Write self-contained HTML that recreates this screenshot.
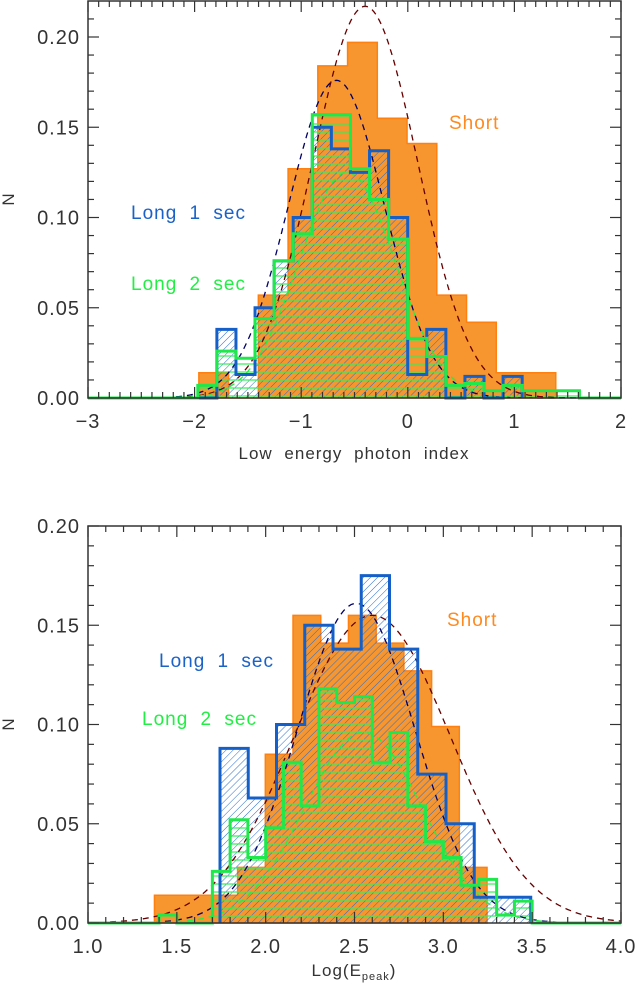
<!DOCTYPE html>
<html><head><meta charset="utf-8"><style>
body{margin:0;background:#fff;}
svg{display:block;font-family:"Liberation Sans",sans-serif;}
</style></head><body>
<svg id="chart" width="635" height="990" viewBox="0 0 635 990" xmlns="http://www.w3.org/2000/svg">
<defs>
<pattern id="hatchBlue" patternUnits="userSpaceOnUse" width="5" height="5" patternTransform="rotate(45)">
<line x1="0" y1="0" x2="0" y2="5" stroke="#2a6fd0" stroke-width="1"/>
</pattern>
<pattern id="hatchGreen" patternUnits="userSpaceOnUse" width="8" height="8">
<line x1="0" y1="4" x2="8" y2="4" stroke="#33ee55" stroke-width="1.2"/>
</pattern>
</defs>
</svg>
<script>
// ---- Top panel data ----
const topOrangeStart = -1.96, topOrangeStep = 0.279;
const topOrange = [0.014,0,0.057,0.127,0.184,0.197,0.155,0.141,0.057,0.042,0.014,0.014];
const topLongStart = -1.97, topLongStep = 0.179;
const topBlue = [0,0.038,0.013,0.050,0.076,0.100,0.150,0.138,0.125,0.137,0.100,0.013,0.038,0,0.012,0,0.012];
const topGreen = [0.007,0.026,0.022,0.044,0.076,0.091,0.157,0.157,0.127,0.110,0.088,0.033,0.023,0.007,0.008,0.004,0.007,0.004,0.004,0.004];
const topGauss = [[0.217,-0.40,0.49,'#660000'],[0.176,-0.67,0.45,'#000066'],[0.125,-0.57,0.45,'#22ee44']];
const topXTicks = [-3,-2,-1,0,1,2];
const topXLabels = ['\u22123','\u22122','\u22121','0','1','2'];
const yTicks = [0,0.05,0.10,0.15,0.20];
const yLabels = ['0.00','0.05','0.10','0.15','0.20'];
// ---- Bottom panel data ----
const botOrangeStart = 1.374, botOrangeStep = 0.156;
const botOrange = [0.014,0.014,0.014,0.028,0.085,0.155,0.141,0.155,0.141,0.127,0.099,0.028];
const botBlueStart = 1.743, botBlueStep = 0.159;
const botBlue = [0.088,0.063,0.100,0.150,0.138,0.175,0.138,0.075,0.050,0.013,0.013];
const botGreenStart = 1.4, botGreenStep = 0.1;
const botGreen = [0.004,0,0,0.026,0.052,0.033,0.048,0.081,0.059,0.118,0.111,0.114,0.081,0.096,0.059,0.041,0.033,0.019,0.022,0.004,0.011];
const botGauss = [[0.155,2.60,0.44,'#660000'],[0.161,2.51,0.33,'#000066'],[0.096,2.55,0.33,'#22ee44']];
const botXTicks = [1.0,1.5,2.0,2.5,3.0,3.5,4.0];
const botXLabels = ['1.0','1.5','2.0','2.5','3.0','3.5','4.0'];

const NS='http://www.w3.org/2000/svg';
const svg=document.getElementById('chart');
function mk(tag,attrs,parent){const e=document.createElementNS(NS,tag);for(const k in attrs)e.setAttribute(k,attrs[k]);(parent||svg).appendChild(e);return e;}

function panel(cfg){
  const g=mk('g',{});
  
  
  const X=u=>cfg.x0+(u-cfg.xmin)/(cfg.xmax-cfg.xmin)*(cfg.x1-cfg.x0);
  const Y=v=>cfg.yb-(v-0)/(cfg.ymax)*(cfg.yb-cfg.yt);
  function stepPath(start,step,vals,closed){
    let d='M'+X(start)+','+Y(0);
    vals.forEach((v,i)=>{d+=' L'+X(start+i*step)+','+Y(v)+' L'+X(start+(i+1)*step)+','+Y(v);});
    d+=' L'+X(start+vals.length*step)+','+Y(0);
    if(closed)d+=' Z';
    return d;
  }
  const o=mk('path',{d:stepPath(cfg.oS,cfg.oW,cfg.orange,true),fill:'#f7962e',stroke:'#ff7f10','stroke-width':1.5},g);
  
  
  const bh=mk('path',{d:stepPath(cfg.bS,cfg.bW,cfg.blue,true),fill:'url(#hatchBlue)',stroke:'none'},g);
  
  
  const gh=mk('path',{d:stepPath(cfg.gS,cfg.gW,cfg.green,true),fill:'url(#hatchGreen)',stroke:'none'},g);
  
  
  cfg.gauss.forEach((p,k)=>{
    let d='';
    for(let i=0;i<=300;i++){const u=cfg.xmin+(cfg.xmax-cfg.xmin)*i/300;const v=p[0]*Math.exp(-0.5*Math.pow((u-p[1])/p[2],2));d+=(i?' L':'M')+X(u).toFixed(1)+','+Y(v).toFixed(1);}
    const c=mk('path',{d:d,fill:'none',stroke:p[3],'stroke-width':1.3,'stroke-dasharray':'6,5'},g);
    
    
  });
  const bl=mk('path',{d:stepPath(cfg.bS,cfg.bW,cfg.blue,false),fill:'none',stroke:'#1560c8','stroke-width':3},g);
  
  
  const gl=mk('path',{d:'M'+cfg.x0+','+Y(0)+' L'+X(cfg.gS)+','+Y(0)+stepPath(cfg.gS,cfg.gW,cfg.green,false).replace('M',' L')+' L'+cfg.x1+','+Y(0),fill:'none',stroke:'#1ee84a','stroke-width':3},g);
  
  
  const fr=mk('rect',{x:cfg.x0,y:cfg.yt,width:cfg.x1-cfg.x0,height:cfg.yb-cfg.yt,fill:'none',stroke:'#333','stroke-width':1.5},g);
  
  
  for(let u=cfg.xmin;u<=cfg.xmax+1e-9;u+=0.1){
    const maj=cfg.xTicks.some(t=>Math.abs(t-u)<1e-6);const L=maj?11:6;const x=X(u);
    mk('line',{x1:x,y1:cfg.yb,x2:x,y2:cfg.yb-L,stroke:'#333','stroke-width':1.2},g);
    mk('line',{x1:x,y1:cfg.yt,x2:x,y2:cfg.yt+L,stroke:'#333','stroke-width':1.2},g);
  }
  for(let v=0;v<=cfg.ymax+1e-9;v+=0.01){
    const maj=yTicks.some(t=>Math.abs(t-v)<1e-6);const L=maj?11:6;const y=Y(v);
    mk('line',{x1:cfg.x0,y1:y,x2:cfg.x0+L,y2:y,stroke:'#333','stroke-width':1.2},g);
    mk('line',{x1:cfg.x1,y1:y,x2:cfg.x1-L,y2:y,stroke:'#333','stroke-width':1.2},g);
  }
  cfg.xTicks.forEach((t,i)=>{const e=mk('text',{x:X(t),y:cfg.yb+30,'text-anchor':'middle','font-size':20,'letter-spacing':1,fill:'#333'},g);e.textContent=cfg.xLabels[i];
    
    });
  yTicks.forEach((t,i)=>{if(t>cfg.ymax+1e-9)return;const e=mk('text',{x:cfg.x0-8,y:Y(t)+7,'text-anchor':'end','font-size':20,'letter-spacing':1,fill:'#333'},g);e.textContent=yLabels[i];
    
    });
  const yt=mk('text',{x:14,y:(cfg.yt+cfg.yb)/2,'text-anchor':'middle','font-size':17,fill:'#333',transform:'rotate(-90 14 '+((cfg.yt+cfg.yb)/2)+')'},g);yt.textContent='N';
  
  
  return {g,X,Y};
}

panel({name:'top-panel',x0:88,x1:621,yt:1,yb:398,xmin:-3,xmax:2,ymax:(398-1)/1805,
  oS:topOrangeStart,oW:topOrangeStep,orange:topOrange,bS:topLongStart,bW:topLongStep,blue:topBlue,gS:topLongStart,gW:topLongStep,green:topGreen,
  gauss:topGauss,xTicks:topXTicks,xLabels:topXLabels});
panel({name:'bottom-panel',x0:88,x1:621,yt:526,yb:923,xmin:1,xmax:4,ymax:0.20,
  oS:botOrangeStart,oW:botOrangeStep,orange:botOrange,bS:botBlueStart,bW:botBlueStep,blue:botBlue,gS:botGreenStart,gW:botGreenStep,green:botGreen,
  gauss:botGauss,xTicks:botXTicks,xLabels:botXLabels});

function label(txt,x,y,col,name,size,anchor){const e=mk('text',{x:x,y:y,'font-size':size||19,fill:col,'text-anchor':anchor||'start','letter-spacing':1,'word-spacing':6});e.textContent=txt;
  
  return e;}
label('Short',449,129,'#ff8a20','legend-short-top');
label('Long 1 sec',131,219,'#1a62c8','legend-long1-top');
label('Long 2 sec',131,290,'#22ee44','legend-long2-top');
label('Low energy photon index',354,459,'#333','x-axis-title-top',17,'middle');
label('Short',447,626,'#ff8a20','legend-short-bottom');
label('Long 1 sec',159,667,'#1a62c8','legend-long1-bottom');
label('Long 2 sec',142,725,'#22ee44','legend-long2-bottom');
const xt=mk('text',{x:354,y:976,'font-size':17,fill:'#333','text-anchor':'middle','letter-spacing':1});


xt.innerHTML='Log(E<tspan font-size="11" dy="4">peak</tspan><tspan dy="-4">)</tspan>';
</script>
</body></html>
